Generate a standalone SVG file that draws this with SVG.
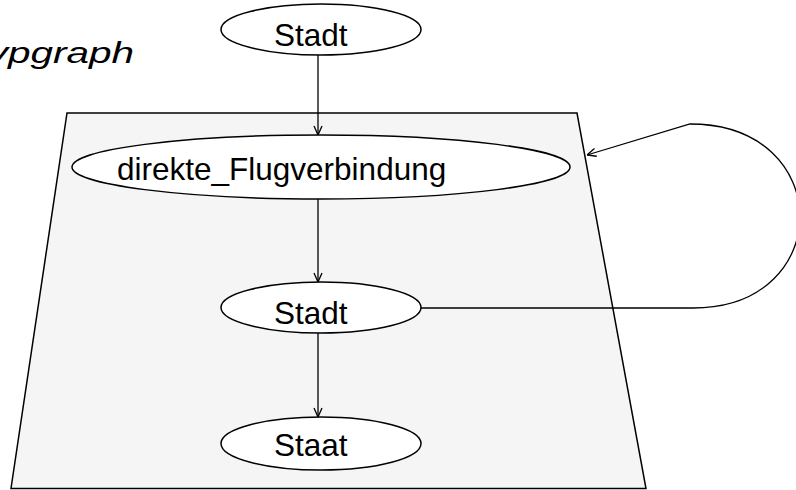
<svg xmlns="http://www.w3.org/2000/svg" width="796" height="490" viewBox="0 0 796 490">
  <defs>
    <marker id="open-arrow" viewBox="0 0 10 10" refX="10" refY="5" markerWidth="10" markerHeight="10" markerUnits="userSpaceOnUse" orient="auto">
      <path d="M1,1 L10,5 L1,9" fill="none" stroke="#000" stroke-width="1.3"/>
    </marker>
    <style>
      .node ellipse { fill: #ffffff; stroke: #000; stroke-width: 1.5; }
      .label { font-family: "Liberation Sans", Arial, sans-serif; font-size: 31.5px; fill: #000; }
      .title { font-family: "Liberation Sans", Arial, sans-serif; font-size: 30px; font-style: italic; fill: #000; }
      .edge { fill: none; stroke: #000; stroke-width: 1.3; marker-end: url(#open-arrow); }
      .frame { fill: #f5f5f5; stroke: #000; stroke-width: 1.5; }
    </style>
  </defs>

  <rect width="796" height="490" fill="#ffffff"/>

  <!-- diagram title, running off the left edge -->
  <text class="title" x="-34" y="63" textLength="168" lengthAdjust="spacingAndGlyphs">Typgraph</text>

  <!-- type graph frame -->
  <polygon id="frame" class="frame" points="67,113 577,113 646,488.5 11,488.5"/>

  <g id="connectors">
    <path id="e-stadt-flug" class="edge" d="M318,55 L318,135"/>
    <path id="e-flug-stadt" class="edge" d="M318,199 L318,282"/>
    <path id="e-stadt-staat" class="edge" d="M318,333 L318,417"/>
    <path id="e-loop" class="edge" d="M421,308 L693,308 C836,308 836,124 690,124 L587,155"/>
  </g>

  <g id="node-stadt-top" class="node">
    <ellipse cx="321" cy="29.5" rx="100" ry="25.5"/>
    <text class="label" x="274" y="46">Stadt</text>
  </g>

  <g id="node-flugverbindung" class="node">
    <ellipse cx="321" cy="167" rx="249" ry="32"/>
    <text class="label" x="117" y="180">direkte_Flugverbindung</text>
  </g>

  <g id="node-stadt" class="node">
    <ellipse cx="321" cy="307.5" rx="100" ry="25.5"/>
    <text class="label" x="274" y="324">Stadt</text>
  </g>

  <g id="node-staat" class="node">
    <ellipse cx="321" cy="443.5" rx="100" ry="26.5"/>
    <text class="label" x="274" y="456">Staat</text>
  </g>
</svg>
